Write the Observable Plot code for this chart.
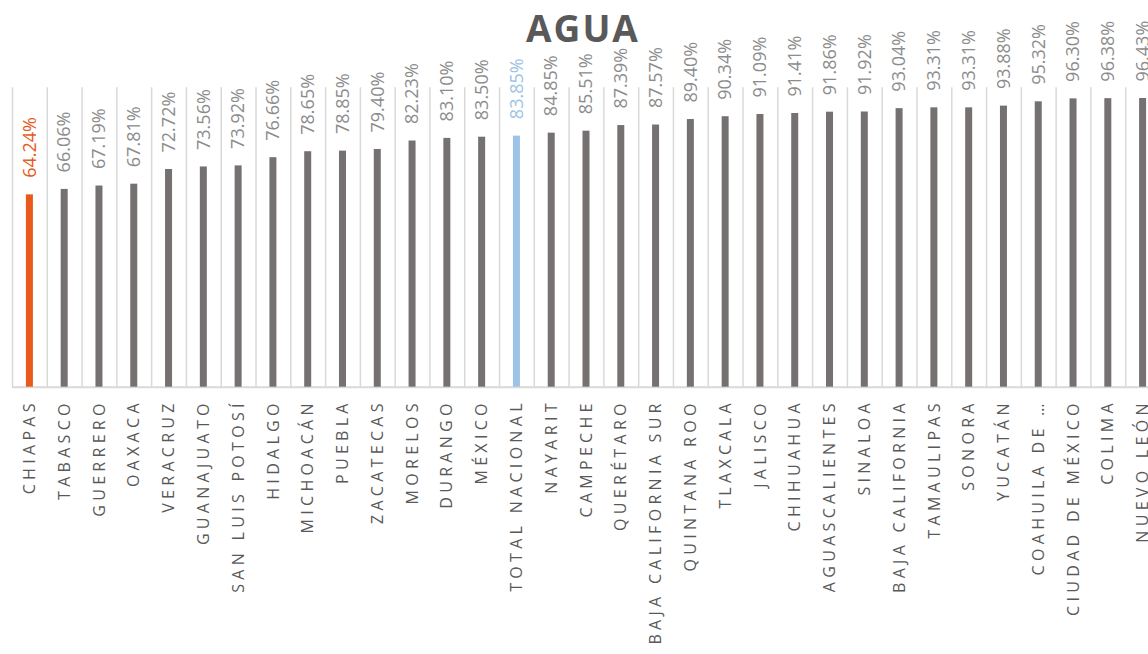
<!DOCTYPE html>
<html><head><meta charset="utf-8">
<script src="https://cdn.jsdelivr.net/npm/d3@7"></script>
<script src="https://cdn.jsdelivr.net/npm/@observablehq/plot@0.6"></script>
<style>
html,body{margin:0;padding:0;background:#fff;overflow:hidden;width:1148px;height:654px;}
#wrap{position:relative;width:1148px;height:654px;overflow:hidden;}
#title{position:absolute;left:0;width:1166px;top:9px;line-height:37px;text-align:center;font-family:"Open Sans",sans-serif;font-weight:700;font-size:37px;letter-spacing:2px;color:#595959;z-index:2;}
#chart{position:absolute;left:0;top:0;width:1160px;}
#chart svg{max-width:none !important;}
#chart svg [aria-label="x-axis tick label"] text{letter-spacing:4.3px;}
</style>
</head><body>
<div id="wrap"><div id="title">AGUA</div><div id="chart"></div></div>
<script>
const states = ["CHIAPAS","TABASCO","GUERRERO","OAXACA","VERACRUZ","GUANAJUATO","SAN LUIS POTOSÍ","HIDALGO","MICHOACÁN","PUEBLA","ZACATECAS","MORELOS","DURANGO","MÉXICO","TOTAL NACIONAL","NAYARIT","CAMPECHE","QUERÉTARO","BAJA CALIFORNIA SUR","QUINTANA ROO","TLAXCALA","JALISCO","CHIHUAHUA","AGUASCALIENTES","SINALOA","BAJA CALIFORNIA","TAMAULIPAS","SONORA","YUCATÁN","COAHUILA DE ZARAGOZA","CIUDAD DE MÉXICO","COLIMA","NUEVO LEÓN"];
const tickLabels = ["CHIAPAS","TABASCO","GUERRERO","OAXACA","VERACRUZ","GUANAJUATO","SAN LUIS POTOSÍ","HIDALGO","MICHOACÁN","PUEBLA","ZACATECAS","MORELOS","DURANGO","MÉXICO","TOTAL NACIONAL","NAYARIT","CAMPECHE","QUERÉTARO","BAJA CALIFORNIA SUR","QUINTANA ROO","TLAXCALA","JALISCO","CHIHUAHUA","AGUASCALIENTES","SINALOA","BAJA CALIFORNIA","TAMAULIPAS","SONORA","YUCATÁN","COAHUILA DE …","CIUDAD DE MÉXICO","COLIMA","NUEVO LEÓN"];
const values = [64.24,66.06,67.19,67.81,72.72,73.56,73.92,76.66,78.65,78.85,79.40,82.23,83.10,83.50,83.85,84.85,85.51,87.39,87.57,89.40,90.34,91.09,91.41,91.86,91.92,93.04,93.31,93.31,93.88,95.32,96.30,96.38,96.43];
const lowest = "CHIAPAS";
const national = "TOTAL NACIONAL";

const data = states.map((s, i) => ({state: s, value: values[i]}));
const barColor = d => d.state === lowest ? "#E8591A" : d.state === national ? "#9DC3E6" : "#767171";
const labelColor = d => d.state === lowest ? "#E8591A" : d.state === national ? "#9DC3E6" : "#8C8C8C";

const W = 1160, H = 654, ML = 12, MR = 0, MT = 87.3, baseY = 386.7;
const n = states.length;
const step = (W - ML - MR) / n;
const barW = 7;

const chart = Plot.plot({
  width: W, height: H,
  marginLeft: ML, marginRight: MR, marginTop: MT, marginBottom: H - baseY,
  x: {domain: states, padding: 0, round: false, label: null},
  y: {domain: [0, 100], axis: null},
  color: {type: "identity"},
  style: {fontFamily: "Open Sans, sans-serif", background: "transparent", overflow: "visible"},
  marks: [
    Plot.ruleX(states, {x: d => d, y1: 0, y2: 100, stroke: "#D9D9D9", strokeWidth: 1.5, dx: -step / 2}),
    Plot.ruleX([states[n - 1]], {x: d => d, y1: 0, y2: 100, stroke: "#D9D9D9", strokeWidth: 1.5, dx: step / 2}),
    Plot.ruleY([0], {stroke: "#D9D9D9", strokeWidth: 2}),
    Plot.barY(data, {x: "state", y: "value", fill: barColor, insetLeft: (step - barW) / 2, insetRight: (step - barW) / 2}),
    Plot.text(data, {x: "state", y: "value", text: d => d.value.toFixed(2) + "%", rotate: -90, textAnchor: "start", lineAnchor: "middle", dy: -17, fontSize: 18, fill: labelColor}),
    Plot.axisX({tickRotate: -90, tickSize: 0, tickPadding: 12, fontSize: 16, color: "#595959", tickFormat: (d) => tickLabels[states.indexOf(d)]})
  ]
});
document.getElementById("chart").appendChild(chart);
</script>
</body></html>
